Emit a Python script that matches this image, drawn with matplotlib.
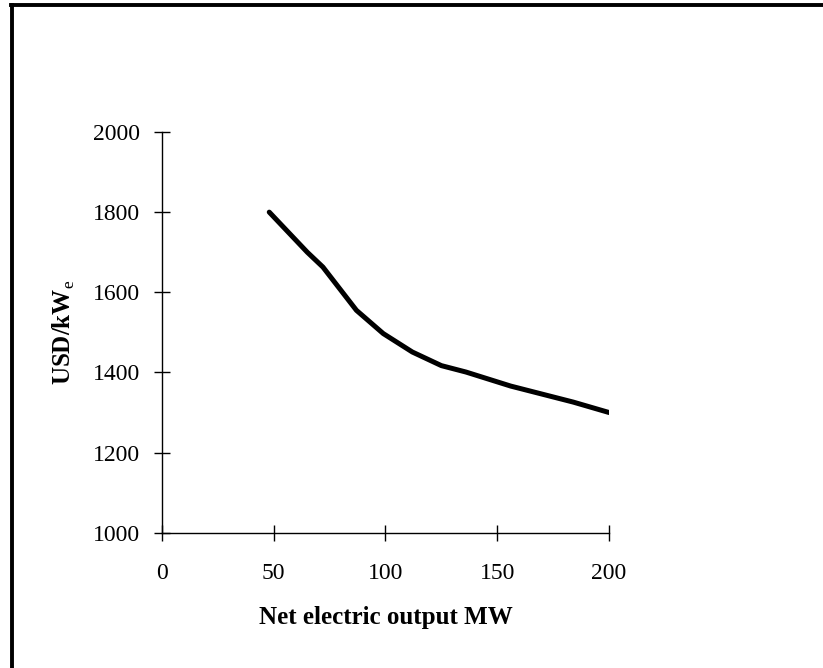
import matplotlib.pyplot as plt
from matplotlib.lines import Line2D

# Werte
output_mw = [48, 65, 72, 87, 99, 112, 125, 136, 156, 184, 200]
cost_usd_kw = [1800, 1700, 1663, 1555, 1497, 1451, 1417, 1401, 1366, 1326, 1300]
xticks = [0, 50, 100, 150, 200]
yticks = [1000, 1200, 1400, 1600, 1800, 2000]

plt.rcParams['font.family'] = ['Liberation Serif', 'DejaVu Serif']
plt.rcParams['mathtext.fontset'] = 'custom'
plt.rcParams['mathtext.bf'] = 'Liberation Serif:bold'
plt.rcParams['mathtext.rm'] = 'Liberation Serif'

fig = plt.figure(figsize=(8.23, 6.68), dpi=100)
ax = fig.add_axes([0.1968, 0.2025, 0.5432, 0.5999])

ax.plot(output_mw, cost_usd_kw, color='black', lw=3.6,
        solid_capstyle='round', solid_joinstyle='round')

ax.set_xlim(0, 200)
ax.set_ylim(1000, 2000)
ax.set_xticks(xticks)
ax.set_yticks(yticks)
ax.spines['top'].set_visible(False)
ax.spines['right'].set_visible(False)
for s in ('left', 'bottom'):
    ax.spines[s].set_linewidth(1.0)
ax.tick_params(direction='inout', length=11, width=1.0, labelsize=17)
ax.tick_params(axis='x', pad=16)
ax.tick_params(axis='y', pad=10.5)

ax.set_xlabel('Net electric output MW', fontsize=18, fontweight='bold', labelpad=16)
ax.set_ylabel(r'USD/kW$_\mathrm{e}$', fontsize=18, fontweight='bold', labelpad=11)

# Rahmen um die Abbildung (oben und links)
fig.add_artist(Line2D([0.013, 1.0], [0.992, 0.992], color='black', lw=2.8,
                      transform=fig.transFigure))
fig.add_artist(Line2D([0.015, 0.015], [0.0, 0.992], color='black', lw=2.8,
                      transform=fig.transFigure))

plt.savefig('out.png', dpi=100)
